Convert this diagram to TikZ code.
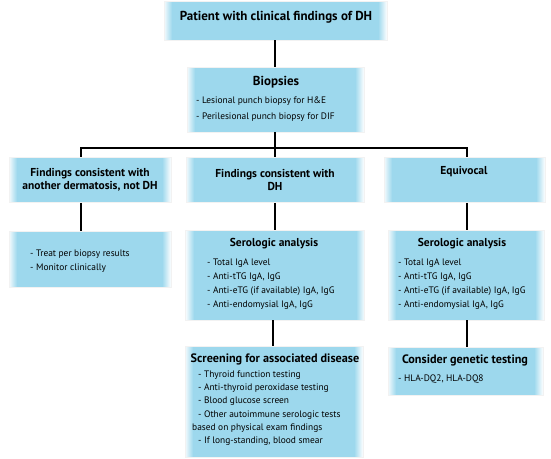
\documentclass[tikz,border=0pt]{standalone}
\usepackage{fontspec}
\setmainfont{PT Sans}
\usetikzlibrary{calc}
\definecolor{boxblue}{HTML}{9DD8ED}
\tikzset{
  bx/.style={draw=gray!10, line width=0.8pt, fill=boxblue!12, inner sep=0pt,
    path picture={
      \foreach \i [evaluate=\i as \p using int(12+11*\i)] in {1,...,8}{
        \fill[boxblue!\p] ($(path picture bounding box.south west)+(\i*1pt,-\i*1pt)$) rectangle ($(path picture bounding box.north east)+(-\i*1pt,\i*1pt)$);
      }
    }},
  ttl/.style={font=\bfseries\fontsize{11.5}{13.5}\selectfont, inner sep=0pt, align=center},
  bigttl/.style={ttl, font=\bfseries\fontsize{13}{15}\selectfont},
  lowttl/.style={ttl, font=\bfseries\fontsize{12.2}{14}\selectfont},
  itm/.style={font=\fontsize{9.4}{11}\selectfont, inner sep=0pt, anchor=west},
  conn/.style={line width=2.6pt, black}
}
\begin{document}
\begin{tikzpicture}[x=1pt,y=-1pt]
\useasboundingbox (0,0) rectangle (551,458);
% boxes
\node[bx, minimum width=223pt, minimum height=39pt] (top) at (275.5,20.5) {};
\node[bx, minimum width=177pt, minimum height=65pt] (biop) at (275.5,99.5) {};
\node[bx, minimum width=162pt, minimum height=45pt] (l2) at (90,180) {};
\node[bx, minimum width=178pt, minimum height=45pt] (m2) at (275,180) {};
\node[bx, minimum width=161pt, minimum height=45pt] (r2) at (464.5,180) {};
\node[bx, minimum width=162pt, minimum height=56pt] (l3) at (90,259) {};
\node[bx, minimum width=179pt, minimum height=90pt] (m3) at (275,275) {};
\node[bx, minimum width=156pt, minimum height=90pt] (r3) at (466,275) {};
\node[bx, minimum width=178pt, minimum height=111pt] (m4) at (274,401.5) {};
\node[bx, minimum width=155pt, minimum height=48pt] (r4) at (465.5,371) {};
% connectors
\coordinate (bar) at (275,148);
\coordinate (barl) at (81,148);
\coordinate (barr) at (467,148);
\draw[conn] (top.south -| bar) -- (biop.north -| bar);
\draw[conn] (biop.south -| bar) -- (bar);
\draw[conn, line cap=rect] (barl) -- (barr);
\draw[conn] (barl) -- (l2.north -| barl);
\draw[conn] (bar) -- (m2.north -| bar);
\draw[conn] (barr) -- (r2.north -| barr);
\draw[conn] (l2.south -| barl) -- (l3.north -| barl);
\draw[conn] (m2.south -| bar) -- (m3.north -| bar);
\draw[conn] (r2.south -| barr) -- (r3.north -| barr);
\draw[conn] (m3.south -| 273,0) -- (m4.north -| 273,0);
\draw[conn] (r3.south -| barr) -- (r4.north -| barr);
% texts
\node[bigttl] (ttop) at (276,17) {Patient with clinical findings of DH};
\node[bigttl] (tbiop) at (276,82) {Biopsies};
\node[itm] (b1) at (196,101) {- Lesional punch biopsy for H\&E};
\node[itm] (b2) at (196,117) {- Perilesional punch biopsy for DIF};
\node[ttl] (tl2) at (90,180) {Findings consistent with\\another dermatosis, not DH};
\node[ttl] (tm2) at (275,180) {Findings consistent with\\DH};
\node[ttl] (tr2) at (464,172) {Equivocal};
\node[itm] (l31) at (30,254) {- Treat per biopsy results};
\node[itm] (l32) at (30,268) {- Monitor clinically};
\node[ttl] (tm3) at (274,244) {Serologic analysis};
\node[itm] (m31) at (207,263) {- Total IgA level};
\node[itm] (m32) at (207,277) {- Anti-tTG IgA, IgG};
\node[itm] (m33) at (207,291) {- Anti-eTG (if available) IgA, IgG};
\node[itm] (m34) at (207,305) {- Anti-endomysial IgA, IgG};
\node[ttl] (tr3) at (462,244) {Serologic analysis};
\node[itm] (r31) at (398,263) {- Total IgA level};
\node[itm] (r32) at (398,277) {- Anti-tTG IgA, IgG};
\node[itm] (r33) at (398,291) {- Anti-eTG (if available) IgA, IgG};
\node[itm] (r34) at (398,305) {- Anti-endomysial IgA, IgG};
\node[lowttl] (tm4) at (275,359) {Screening for associated disease};
\node[itm] (m41) at (198,375) {- Thyroid function testing};
\node[itm] (m42) at (198,388) {- Anti-thyroid peroxidase testing};
\node[itm] (m43) at (198,401) {- Blood glucose screen};
\node[itm] (m44) at (198,415) {- Other autoimmune serologic tests};
\node[itm] (m45) at (192,428) {based on physical exam findings};
\node[itm] (m46) at (198,441) {- If long-standing, blood smear};
\node[lowttl] (tr4) at (465,360) {Consider genetic testing};
\node[itm] (r41) at (398,379) {- HLA-DQ2, HLA-DQ8};
\end{tikzpicture}
\end{document}
